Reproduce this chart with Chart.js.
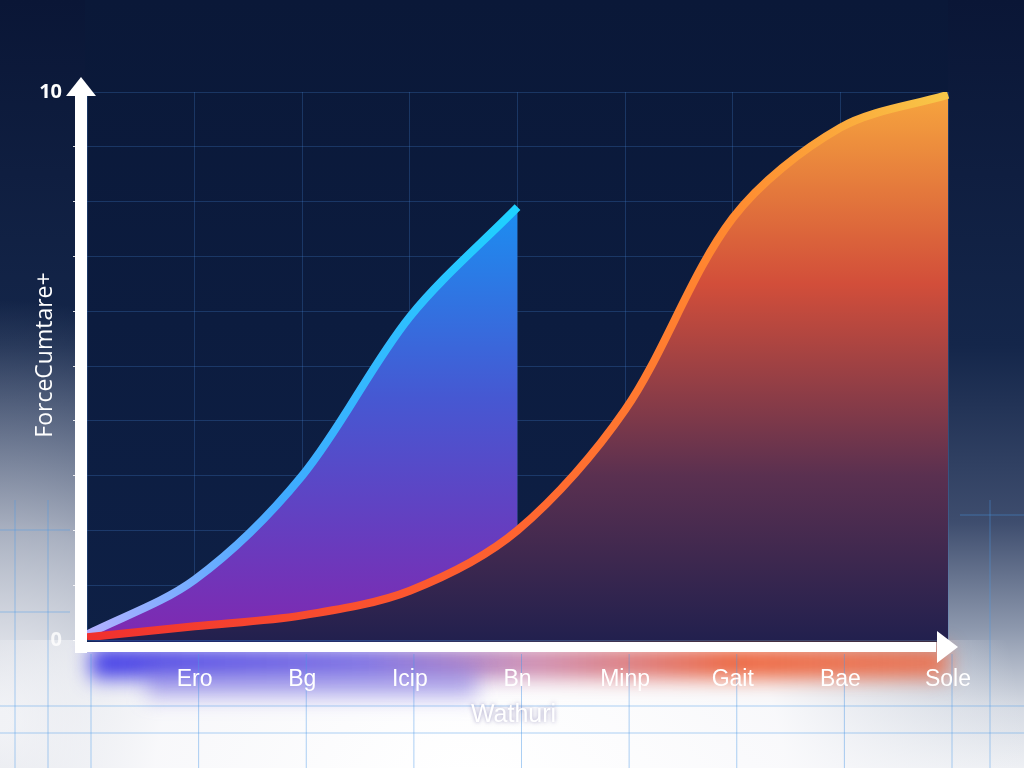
<!DOCTYPE html>
<html>
<head>
<meta charset="utf-8">
<script src="https://cdn.jsdelivr.net/npm/chart.js@4.4.1/dist/chart.umd.min.js"></script>
<style>
  html, body { margin: 0; padding: 0; background: #0b1838; overflow: hidden; }
  #wrap { width: 1024px; height: 768px; }
</style>
</head>
<body>
<div id="wrap"><canvas id="chart-js" width="1024" height="768"></canvas></div>
<script>
// data
const categories = ['', 'Ero', 'Bg', 'Icip', 'Bn', 'Minp', 'Gait', 'Bae', 'Sole'];
const blueValues = [0.1, 1.1, 3.0, 5.9, 7.9, null, null, null, null];
const orangeValues = [0.05, 0.25, 0.45, 0.9, 2.0, 4.2, 7.7, 9.35, 9.95];
const yTickLabels = { 0: '0', 10: '10' };
const xTitle = 'Wathuri';
const yTitle = 'ForceCumtare+';

const labelFont = "'Liberation Sans Narrow', 'Liberation Sans', sans-serif";

// background, navy plot, glow under the axis, faint grid in the light band
const backdrop = {
    id: 'backdrop',
    beforeDraw(chart) {
        const { ctx, width, height, chartArea: a } = chart;
        ctx.save();

        let g = ctx.createLinearGradient(0, 0, 0, height);
        g.addColorStop(0, '#0a1636');
        g.addColorStop(0.45, '#14264a');
        g.addColorStop(0.68, '#3e4d6e');
        g.addColorStop(0.82, '#8e99ae');
        g.addColorStop(0.92, '#d5dae3');
        g.addColorStop(1, '#eef0f4');
        ctx.fillStyle = g;
        ctx.fillRect(0, 0, width, height);

        // light corner bottom-left
        g = ctx.createRadialGradient(0, 720, 10, 0, 720, 420);
        g.addColorStop(0, 'rgba(240,241,245,1)');
        g.addColorStop(0.45, 'rgba(200,205,216,0.75)');
        g.addColorStop(1, 'rgba(150,160,180,0)');
        ctx.fillStyle = g;
        ctx.fillRect(0, 0, width, height);

        // white band below
        g = ctx.createRadialGradient(470, 800, 20, 470, 800, 560);
        g.addColorStop(0, 'rgba(255,255,255,1)');
        g.addColorStop(0.55, 'rgba(250,250,252,0.95)');
        g.addColorStop(1, 'rgba(240,242,246,0)');
        ctx.fillStyle = g;
        ctx.fillRect(0, a.bottom, width, height - a.bottom);

        // navy plot column
        g = ctx.createLinearGradient(0, 0, 0, a.bottom);
        g.addColorStop(0, '#0a1838');
        g.addColorStop(1, '#0e2046');
        ctx.fillStyle = g;
        ctx.fillRect(a.left - 2, 0, a.right - a.left + 2, a.bottom + 2);

        // coloured glow under the x axis
        const gy = a.bottom + 8;
        ctx.save();
        ctx.filter = 'blur(10px)';
        g = ctx.createLinearGradient(a.left, 0, a.right, 0);
        g.addColorStop(0, 'rgba(60,55,230,1)');
        g.addColorStop(0.32, 'rgba(115,100,225,0.95)');
        g.addColorStop(0.52, 'rgba(200,125,165,0.9)');
        g.addColorStop(0.75, 'rgba(236,95,55,1)');
        g.addColorStop(1, 'rgba(240,100,60,0.85)');
        ctx.fillStyle = g;
        ctx.fillRect(a.left + 4, gy, a.right - a.left - 4, 30);
        ctx.fillStyle = 'rgba(120,110,225,0.5)';
        ctx.fillRect(a.left + 60, gy + 20, 330, 30);
        ctx.restore();

        // faint blue grid in the light area
        ctx.strokeStyle = 'rgba(70,150,230,0.45)';
        ctx.lineWidth = 1;
        const xs = chart.scales.x;
        ctx.beginPath();
        for (let i = 0; i < categories.length; i++) {
            const px = xs.getPixelForValue(i) + 4;
            ctx.moveTo(px, a.bottom + 14);
            ctx.lineTo(px, height);
        }
        [15, 48, 990].forEach(px => { ctx.moveTo(px, 500); ctx.lineTo(px, height); });
        [706, 733].forEach(py => { ctx.moveTo(0, py); ctx.lineTo(width, py); });
        [530, 612].forEach(py => { ctx.moveTo(0, py); ctx.lineTo(70, py); });
        ctx.moveTo(960, 515); ctx.lineTo(1024, 515);
        ctx.stroke();

        ctx.restore();
    }
};

// white axes with arrow heads and the axis titles
const axes = {
    id: 'axes',
    afterDraw(chart) {
        const { ctx, chartArea: a } = chart;
        const ax = a.left - 6;
        const ay = a.bottom + 7;
        ctx.save();
        ctx.fillStyle = '#ffffff';
        ctx.fillRect(ax - 6, a.top + 2, 12, ay - a.top + 4);
        ctx.fillRect(ax - 6, ay - 5, a.right - ax - 6, 10);
        ctx.beginPath();
        ctx.moveTo(ax, a.top - 15);
        ctx.lineTo(ax + 15, a.top + 4);
        ctx.lineTo(ax - 15, a.top + 4);
        ctx.closePath();
        ctx.fill();
        ctx.beginPath();
        ctx.moveTo(a.right + 10, ay);
        ctx.lineTo(a.right - 11, ay - 16);
        ctx.lineTo(a.right - 11, ay + 16);
        ctx.closePath();
        ctx.fill();

        ctx.shadowColor = 'rgba(90,80,150,0.55)';
        ctx.shadowBlur = 4;
        ctx.font = '25px ' + labelFont;
        ctx.textAlign = 'center';
        ctx.textBaseline = 'middle';
        ctx.fillText(xTitle, (a.left + a.right) / 2 - 4, 715);
        ctx.shadowColor = 'transparent';

        ctx.translate(45, 355);
        ctx.rotate(-Math.PI / 2);
        ctx.font = "23px 'Open Sans', sans-serif";
        ctx.fillText(yTitle, 0, 0);
        ctx.restore();
    }
};

function blueFill(c) {
    const a = c.chart.chartArea;
    if (!a) return 'rgba(0,0,0,0)';
    const g = c.chart.ctx.createLinearGradient(0, 200, 0, a.bottom);
    g.addColorStop(0, '#1a90f2');
    g.addColorStop(0.45, '#4658d2');
    g.addColorStop(1, '#8028b0');
    return g;
}

function blueLine(c) {
    const a = c.chart.chartArea;
    if (!a) return '#30b0ff';
    const g = c.chart.ctx.createLinearGradient(a.left, 0, 520, 0);
    g.addColorStop(0, '#b4b0ff');
    g.addColorStop(0.45, '#40aaff');
    g.addColorStop(1, '#1ed2ff');
    return g;
}

function orangeFill(c) {
    const a = c.chart.chartArea;
    if (!a) return 'rgba(0,0,0,0)';
    const g = c.chart.ctx.createLinearGradient(0, a.top, 0, a.bottom);
    g.addColorStop(0, '#f7a63e');
    g.addColorStop(0.35, '#d24e3a');
    g.addColorStop(0.7, '#5a3050');
    g.addColorStop(1, '#22204e');
    return g;
}

function orangeLine(c) {
    const a = c.chart.chartArea;
    if (!a) return '#ff7030';
    const g = c.chart.ctx.createLinearGradient(a.left, 0, a.right, 0);
    g.addColorStop(0, '#f0302e');
    g.addColorStop(0.5, '#ff6430');
    g.addColorStop(0.75, '#ff8a30');
    g.addColorStop(1, '#f8c848');
    return g;
}

const ctx = document.getElementById('chart-js').getContext('2d');

const myChart = new Chart(ctx, {
    type: 'line',
    data: {
        labels: categories,
        datasets: [{
            label: 'orange',
            data: orangeValues,
            borderColor: orangeLine,
            backgroundColor: orangeFill,
            fill: 'origin',
            borderWidth: 8,
            pointRadius: 0,
            tension: 0.32,
            order: 0
        }, {
            label: 'blue',
            data: blueValues,
            borderColor: blueLine,
            backgroundColor: blueFill,
            fill: 'origin',
            borderWidth: 8,
            pointRadius: 0,
            tension: 0.32,
            order: 1
        }]
    },
    options: {
        responsive: false,
        devicePixelRatio: 1,
        animation: false,
        layout: { padding: { left: 0, right: 76, top: 92, bottom: 0 } },
        plugins: {
            legend: { display: false },
            tooltip: { enabled: false }
        },
        scales: {
            x: {
                grid: { color: 'rgba(70,130,210,0.28)', drawTicks: false },
                border: { display: false },
                ticks: {
                    color: '#ffffff',
                    padding: 26,
                    maxRotation: 0,
                    autoSkip: false,
                    font: { family: labelFont, size: 23 }
                },
                afterFit(scale) { scale.height = 128; }
            },
            y: {
                min: 0,
                max: 10,
                grid: {
                    color: 'rgba(70,130,210,0.28)',
                    tickColor: 'rgba(255,255,255,0.85)',
                    tickLength: 14
                },
                border: { display: false },
                ticks: {
                    stepSize: 1,
                    padding: 11,
                    callback: v => yTickLabels[v] ?? '',
                    color: c => c.tick && c.tick.value === 0 ? 'rgba(255,255,255,0.8)' : '#ffffff',
                    font: { family: "'Open Sans', sans-serif", size: 20, weight: 'bold' }
                },
                afterFit(scale) { scale.width = 87; }
            }
        }
    },
    plugins: [backdrop, axes]
});
</script>
</body>
</html>
